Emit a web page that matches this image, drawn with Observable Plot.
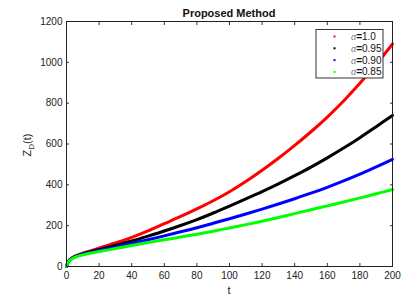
<!DOCTYPE html>
<html><head><meta charset="utf-8">
<script src="https://cdn.jsdelivr.net/npm/d3@7"></script>
<script src="https://cdn.jsdelivr.net/npm/@observablehq/plot@0.6"></script>
<style>
body{margin:0;background:#fff;}
#wrap{width:420px;height:300px;}
</style></head><body><div id="wrap"></div>
<script>
const tValues = [0,1,2,5,10,15,20,30,40,50,60,70,80,90,100,110,120,130,140,150,160,170,180,190,200];
const zAlpha100 = [0,23,34,50,65,77,90,115,143,175,210,245,282,322,366,416,471,530,593,660,732,811,897,990,1090];
const zAlpha095 = [0,22,33,48,62,73,83,103,125,149,174,201,230,262,296,331,367,405,445,487,532,580,631,685,740];
const zAlpha090 = [0,21,32,47,60,70,78,95,113,131,150,170,190,212,234,257,281,306,332,359,388,419,452,488,525];
const zAlpha085 = [0,20,30,45,57,66,73,88,103,117,131,144,158,173,189,205,222,240,259,278,297,316,336,356,377];
const seriesNames = ["1.0","0.95","0.90","0.85"];
const seriesColors = ["#ff0000","#000000","#0000ff","#00ff00"];
const xTicks = [0,20,40,60,80,100,120,140,160,180,200];
const yTicks = [0,200,400,600,800,1000,1200];
const titleText = "Proposed Method";
const xLabel = "t";

const allZ = [zAlpha100, zAlpha095, zAlpha090, zAlpha085];
const rows = [];
seriesNames.forEach((s, i) => tValues.forEach((t, j) => rows.push({series: s, t, z: allZ[i][j]})));

const ml = 66, mr = 28, mt = 21, mb = 34;
const chart = Plot.plot({
  width: 420, height: 300,
  marginLeft: ml, marginRight: mr, marginTop: mt, marginBottom: mb,
  style: {fontFamily: "Liberation Sans, Arial, sans-serif", fontSize: "10px", color: "#222", background: "white"},
  x: {domain: [0, 200]},
  y: {domain: [0, 1200]},
  color: {domain: seriesNames, range: seriesColors},
  marks: [
    Plot.line(rows, {x: "t", y: "z", z: "series", stroke: "series", strokeWidth: 3, curve: "catmull-rom"}),
    Plot.axisX({ticks: xTicks, tickSize: -3, tickPadding: 8, tickFormat: d => String(d), label: null, stroke: "#333"}),
    Plot.axisX({anchor: "top", ticks: xTicks, tickSize: -3, tickFormat: () => "", label: null, stroke: "#333"}),
    Plot.axisY({ticks: yTicks, tickSize: -3, tickPadding: 7, tickFormat: d => String(d), label: null, stroke: "#333"}),
    Plot.axisY({anchor: "right", ticks: yTicks, tickSize: -3, tickFormat: () => "", label: null, stroke: "#333"}),
    Plot.frame({stroke: "#222"})
  ]
});
document.getElementById("wrap").appendChild(chart);

const svg = d3.select(chart.tagName.toLowerCase() === "svg" ? chart : chart.querySelector("svg"));
const ff = "Liberation Sans, Arial, sans-serif";
svg.append("text").attr("x", ml + (420 - ml - mr) / 2).attr("y", 16.5)
  .attr("text-anchor", "middle").attr("font-family", ff).attr("font-size", 11).attr("font-weight", "bold")
  .attr("fill", "#111").text(titleText);
svg.append("text").attr("x", ml + (420 - ml - mr) / 2).attr("y", 294)
  .attr("text-anchor", "middle").attr("font-family", ff).attr("font-size", 11).attr("fill", "#222").text(xLabel);
const yl = svg.append("text").attr("transform", "translate(31,145) rotate(-90)")
  .attr("text-anchor", "middle").attr("font-family", ff).attr("font-size", 11).attr("fill", "#222");
yl.append("tspan").text("Z");
yl.append("tspan").attr("font-size", 8).attr("dy", 3).text("D");
yl.append("tspan").attr("dy", -3).text("(t)");

const lg = svg.append("g").attr("text-anchor", "start");
lg.append("rect").attr("x", 316).attr("y", 29.5).attr("width", 67).attr("height", 48.5)
  .attr("fill", "white").attr("stroke", "#333").attr("stroke-width", 1);
seriesNames.forEach((s, i) => {
  const cy = 36.5 + i * 11.8;
  lg.append("rect").attr("x", 333.5).attr("y", cy - 1).attr("width", 2).attr("height", 2).attr("fill", seriesColors[i]);
  const tx = lg.append("text").attr("x", 351).attr("y", cy + 3.5).attr("text-anchor", "start")
    .attr("font-family", ff).attr("font-size", 10).attr("fill", "#111");
  tx.append("tspan").attr("font-style", "italic").attr("fill", "#777").attr("font-size", 9).text("α");
  tx.append("tspan").attr("font-weight", "bold").text("=");
  tx.append("tspan").text(s);
});
</script>
</body></html>
